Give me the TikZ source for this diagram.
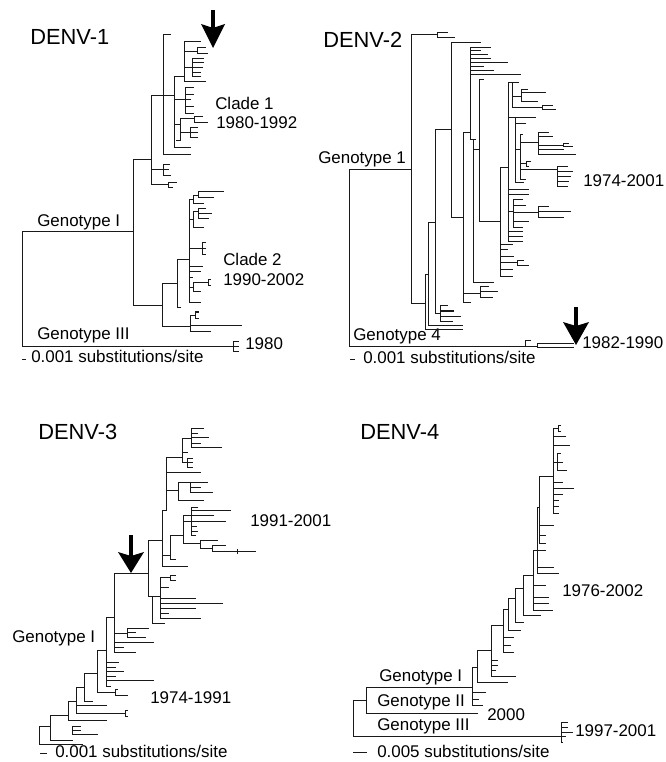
\documentclass[tikz,border=0pt]{standalone}
\usepackage{fontspec}
\setmainfont{Liberation Sans}
\def\lasty{0}
\newcommand\Tclade[2]{%
  \foreach \cy/\cx [count=\cn] in {#2}{%
    \draw[br] (#1,\cy) -- (\cx,\cy);
    \ifnum\cn>1 \draw[br] (#1,\lasty) -- (#1,\cy);\fi
    \xdef\lasty{\cy}%
  }%
}
\tikzset{
  br/.style={line width=0.75pt, line cap=rect, draw=black!90},
  ttl/.style={inner sep=0, anchor=base west, font=\fontsize{16.4}{18}\selectfont},
  lab/.style={inner sep=0, anchor=base west, font=\fontsize{12.7}{14}\selectfont},
  bigarrow/.style={fill=black, draw=none}
}
\begin{document}
\begin{tikzpicture}[x=0.75pt, y=-0.75pt]
\useasboundingbox (0,0) rectangle (665,762);

% ================= DENV-1 =================
\node[ttl] (t1) at (30,45) {DENV-1};
\node[lab] (c1) at (215,110) {Clade 1};
\node[lab] (c1y) at (216,129) {1980-1992};
\node[lab] (c2) at (223,266) {Clade 2};
\node[lab] (c2y) at (223,285.7) {1990-2002};
\node[lab] (g1a) at (37,226.7) {Genotype I};
\node[lab] (g1c) at (37,339.3) {Genotype III};
\node[lab] (y1980) at (245,349.3) {1980};
\node[lab] (s1) at (31,362.7) {0.001 substitutions/site};
\draw[br] (22,359) -- (25.5,359);

\Tclade{22}{232/133, 346/233}
\Tclade{233}{341/238, 346/238, 351/238}
\Tclade{133}{160/151, 306/162}
\Tclade{151}{96/163, 170/163, 185/168}
\Tclade{163}{35/170, 96/174, 155/190}
\Tclade{163}{165/169, 170/168, 176/170}
\Tclade{168}{183/176, 188/172}
\Tclade{174}{77/184, 100/185, 125/180, 148/190}
\Tclade{184}{42/200, 52/197, 68/192, 82/205}
\Tclade{197}{48/205, 54/207}
\Tclade{192}{59/203, 63/203, 68/202, 73/200, 77/200}
\Tclade{185}{88/193, 95/193, 100/190, 107/193, 114/193}
\Tclade{180}{119/194, 133/190, 141/176}
\Tclade{194}{117/202, 123/207}
\Tclade{190}{128/197, 133/197, 138/197}
% clade 2
\Tclade{162}{284/177, 326/190}
\Tclade{177}{260/189, 308/180}
\Tclade{189}{200/193, 220/193, 249/202, 267/202, 272/200, 278/192, 288/193, 303/200}
\Tclade{193}{196/198, 204/203}
\Tclade{198}{192/223, 198/213}
\Tclade{193}{212/198, 228/203}
\Tclade{198}{209/205, 214/211, 219/208}
\Tclade{202}{243/205, 249/205, 255/205}
\Tclade{193}{283/208, 292/200}
\Tclade{208}{280/210, 286/210}
\Tclade{190}{315/195, 325/241, 331/210}
\Tclade{195}{312/198, 318/198}
% arrow
\draw[line width=2.4pt] (213,10) -- (213,30);
\fill[bigarrow] (201,24) -- (213,28) -- (225,24) -- (213,48) -- cycle;

% ================= DENV-2 =================
\node[ttl] (t2) at (323,47.3) {DENV-2};
\node[lab] (g21) at (318,164) {Genotype 1};
\node[lab] (y2a) at (583,186.7) {1974-2001};
\node[lab] (g24) at (353,340) {Genotype 4};
\node[lab] (y2b) at (582,348.3) {1982-1990};
\node[lab] (s2) at (363,363.3) {0.001 substitutions/site};
\draw[br] (350,359) -- (354.5,359);

\Tclade{349}{170/411, 346/525}
\Tclade{525}{340/530, 346/537}
\Tclade{537}{343.5/573, 347/573}
\Tclade{411}{35/437, 304/425}
\Tclade{437}{33/447, 38/454}
\Tclade{425}{275/428, 329/462}
\Tclade{428}{223/435, 325/462}
\Tclade{435}{130/451, 313/440}
\Tclade{440}{306/447, 311/453, 316/460, 321/452}
\Tclade{451}{43/480, 218/463}
\Tclade{463}{133/470, 294/480, 303/470}
\Tclade{480}{287/488, 292/497, 298/492}
\Tclade{470}{48/490, 51/480, 55/487, 59/490, 63/507, 67/483, 71/493, 75/520, 140/473}
\Tclade{473}{140/475, 150/479, 283/493}
\Tclade{479}{80/483, 222/500}
\Tclade{500}{168/508, 245/512, 250/507, 257/513, 263/517, 270/512, 277/512}
\Tclade{517}{261/523, 266/528}
\Tclade{508}{83/512, 118/515, 190/528, 195/528, 212/513, 232/522, 237/522, 242/522}
\Tclade{512}{83/518, 97/521, 108/542}
\Tclade{521}{90/527, 93/545, 102/537}
\Tclade{542}{106/552, 110/555}
\Tclade{515}{118/535, 124/525, 150/520, 183/523}
\Tclade{520}{135/522, 143/538, 164/526, 170/557, 180/525}
\Tclade{538}{133/548, 137/552, 146/563, 150/563, 155/575}
\Tclade{563}{144/568, 147/572}
\Tclade{557}{167/567, 172/572, 177/570, 182/568, 187/567}
\Tclade{526}{162/530, 167/528}
\Tclade{513}{200/522, 206/525, 213/538, 222/528, 228/522}
\Tclade{538}{207/548, 212/570, 218/563}
% arrow
\draw[line width=2.4pt] (576,307) -- (576,330);
\fill[bigarrow] (563,322) -- (576,326) -- (589,322) -- (576,345) -- cycle;

% ================= DENV-3 =================
\node[ttl] (t3) at (38,439.3) {DENV-3};
\node[lab] (y3a) at (250,526) {1991-2001};
\node[lab] (g31) at (12,642.7) {Genotype I};
\node[lab] (y3b) at (150,703.3) {1974-1991};
\node[lab] (s3) at (55,757.3) {0.001 substitutions/site};
\draw[br] (40,753) -- (46,753);

\Tclade{39}{726/50, 744/82}
\Tclade{50}{715/68, 740/72}
\Tclade{72}{726/80, 730/80, 734/97}
\Tclade{68}{701/76, 720/106}
\Tclade{76}{687/84, 705/106, 713/125}
\Tclade{125}{710/127, 716/127}
\Tclade{84}{673/97, 701/92}
\Tclade{97}{650/106, 692/115}
\Tclade{115}{689/117, 695/127}
\Tclade{106}{617/114, 662/118, 667/115, 671/123, 676/115, 680/153, 686/110}
\Tclade{114}{573/148, 633/127, 642/153, 647/123, 652/135}
\Tclade{127}{628/148, 632/135, 637/145}
\Tclade{148}{540/162, 596/152}
\Tclade{152}{596/160, 623/164}
\Tclade{160}{577/170, 587/168, 598/195, 603/222, 608/195, 613/168, 618/200}
\Tclade{170}{575/175, 580/175}
\Tclade{162}{510/166, 555/170, 566/187}
\Tclade{170}{535/183, 559/175}
\Tclade{183}{515/191, 521/225, 543/200}
\Tclade{191}{507/197, 510/230, 515/213, 526/196, 531/197, 535/195}
\Tclade{200}{540/217, 548/212}
\Tclade{212}{545/225, 551/255}
\draw[br] (237,549) -- (237,553);
\Tclade{166}{457/182, 472/200, 490/178, 510/166}
\Tclade{182}{438/191, 452/187, 462/187}
\Tclade{191}{428/203, 433/197, 437/208, 443/200, 447/221}
\Tclade{187}{458/192, 462/192, 467/192}
\Tclade{178}{482/190, 500/203}
\Tclade{190}{482/207, 487/200, 492/212}
% arrow
\draw[line width=2.4pt] (131,535) -- (131,558);
\fill[bigarrow] (118,552) -- (131,556) -- (144,552) -- (131,573) -- cycle;

% ================= DENV-4 =================
\node[ttl] (t4) at (360,439.3) {DENV-4};
\node[lab] (y4a) at (562,596) {1976-2002};
\node[lab] (g41) at (379,681) {Genotype I};
\node[lab] (g42) at (377,706.7) {Genotype II};
\node[lab] (y4b) at (487,720) {2000};
\node[lab] (g43) at (377,730) {Genotype III};
\node[lab] (y4c) at (575,736.7) {1997-2001};
\node[lab] (s4) at (377,757.3) {0.005 substitutions/site};
\draw[br] (353,752) -- (366,752);

\Tclade{353}{700/366, 736/561}
\Tclade{561}{722/567, 727/567, 732/572, 736/565, 742/562}
\Tclade{366}{687/472, 713/477}
\Tclade{472}{667/477, 692/485, 699/478, 705/482}
\Tclade{477}{650/491, 682/507}
\Tclade{491}{625/503, 660/497, 665/497, 670/495, 676/515}
\Tclade{503}{609/508, 637/513, 645/510, 652/513}
\Tclade{508}{598/515, 630/520}
\Tclade{515}{588/523, 622/523}
\Tclade{523}{575/533, 615/540}
\Tclade{533}{550/537, 585/545, 597/548, 603/548, 610/552}
\Tclade{537}{507/539, 550/545, 567/553, 573/558}
\Tclade{539}{476/553, 525/553, 535/545, 543/545}
\Tclade{553}{428/558, 436/565, 445/569, 462/557, 482/562, 488/573, 494/562, 500/558, 506/558, 513/558}
\Tclade{557}{453/560, 462/562, 470/566}
\Tclade{558}{425/560, 431/560}
\end{tikzpicture}
\end{document}
